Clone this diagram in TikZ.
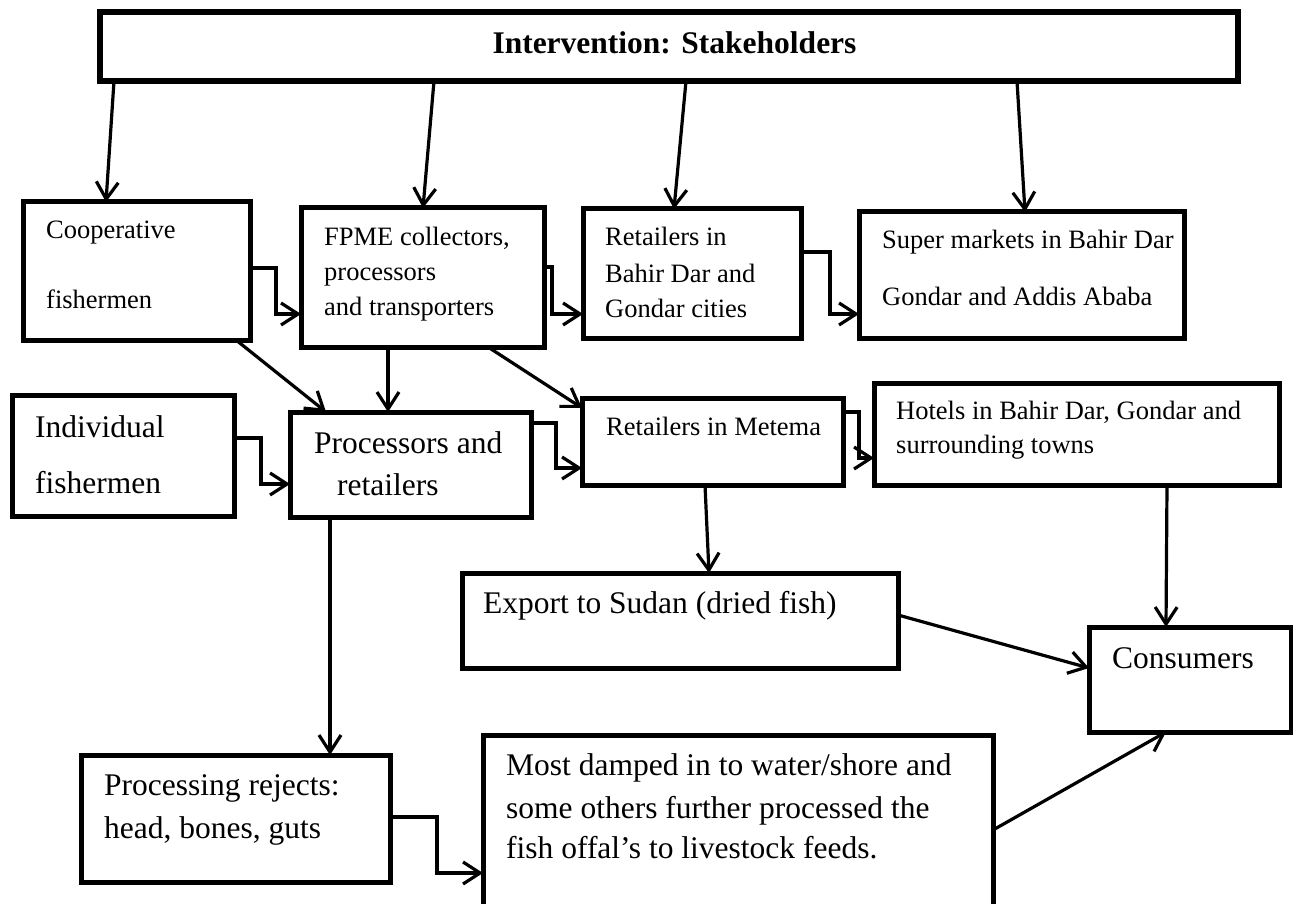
\documentclass[tikz,border=0pt]{standalone}
\usepackage{fontspec}
\setmainfont{Liberation Serif}
\usetikzlibrary{arrows.meta}
\begin{document}
\begin{tikzpicture}[x=1pt,y=-1pt,
  box/.style={draw, line width=5pt, outer sep=0pt, inner sep=0pt, anchor=north west},
  conn/.style={line width=3.2pt, -{Straight Barb[length=17pt,width=22pt]}},
  sm/.style={anchor=base west, inner sep=0pt, font=\fontsize{26.5}{30}\selectfont},
  bg/.style={anchor=base west, inner sep=0pt, font=\fontsize{31.5}{36}\selectfont}]
\clip (0,0) rectangle (1293,904);
\fill[white] (0,0) rectangle (1293,904);
% boxes
\node[box, line width=5.5pt, minimum width=1138pt, minimum height=69pt] (top) at (100,12) {};
\node[box, minimum width=227pt, minimum height=138pt] (coop) at (23,202) {};
\node[box, minimum width=243pt, minimum height=139pt] (fpme) at (301,208) {};
\node[box, minimum width=218pt, minimum height=129pt] (rbd) at (583,209) {};
\node[box, minimum width=325pt, minimum height=126pt] (super) at (859,212) {};
\node[box, minimum width=222pt, minimum height=121pt] (indiv) at (12,395) {};
\node[box, minimum width=241pt, minimum height=105pt] (proc) at (290,412) {};
\node[box, minimum width=261pt, minimum height=87pt] (metema) at (582,398) {};
\node[box, minimum width=405pt, minimum height=102pt] (hotels) at (874,383) {};
\node[box, minimum width=436pt, minimum height=95pt] (export) at (462,573) {};
\node[box, minimum width=202pt, minimum height=105pt] (cons) at (1089,627) {};
\node[box, minimum width=309pt, minimum height=127pt] (rejects) at (81,755) {};
\node[box, minimum width=510pt, minimum height=200pt] (damped) at (483,735) {};
% texts
\node[anchor=base, inner sep=0pt, font=\fontsize{31.5}{36}\selectfont\bfseries] (ttop) at (674.5,54) {Intervention: Stakeholders};
\node[sm] (tc1) at (46,238) {Cooperative};
\node[sm] (tc2) at (46,308) {fishermen};
\node[sm] (tf1) at (324,245) {FPME collectors,};
\node[sm] (tf2) at (324,280) {processors};
\node[sm] (tf3) at (324,315) {and transporters};
\node[sm] (tr1) at (605,246) {Retailers in};
\node[sm] (tr2) at (605,282) {Bahir Dar and};
\node[sm] (tr3) at (605,317) {Gondar cities};
\node[sm] (ts1) at (882,248) {Super markets in Bahir Dar};
\node[sm] (ts2) at (882,305) {Gondar and Addis Ababa};
\node[bg] (ti1) at (35,437) {Individual};
\node[bg] (ti2) at (35,493) {fishermen};
\node[bg] (tp1) at (314,453) {Processors and};
\node[bg] (tp2) at (337,495) {retailers};
\node[sm] (tm1) at (606,435) {Retailers in Metema};
\node[sm] (th1) at (896,419) {Hotels in Bahir Dar, Gondar and};
\node[sm] (th2) at (896,453) {surrounding towns};
\node[bg] (te1) at (483,613) {Export to Sudan (dried fish)};
\node[bg] (tco) at (1112,668) {Consumers};
\node[bg] (tj1) at (104,795) {Processing rejects:};
\node[bg] (tj2) at (104,838) {head, bones, guts};
\node[bg] (td1) at (506,775) {Most damped in to water/shore and};
\node[bg] (td2) at (506,818) {some others further processed the};
\node[bg] (td3) at (506,858) {fish offal’s to livestock feeds.};
% connectors
\draw[conn] (top.south -| 114,0) -- (coop.north -| 106,0);
\draw[conn] (top.south -| 434,0) -- (fpme.north -| 423,0);
\draw[conn] (top.south -| 686,0) -- (rbd.north -| 674,0);
\draw[conn] (top.south -| 1017,0) -- (super.north -| 1025,0);
\draw[conn] (coop.east |- 0,268) -| (276,314) -- (fpme.west |- 0,314);
\draw[conn] (fpme.east |- 0,267) -| (552,314) -- (rbd.west |- 0,314);
\draw[conn] (rbd.east |- 0,252) -| (830,314) -- (super.west |- 0,314);
\draw[conn] (coop.south -| 236,0) -- (proc.north -| 326,0);
\draw[conn] (fpme.south -| 388,0) -- (proc.north -| 388,0);
\draw[conn] (fpme.south -| 488,0) -- (metema.west |- 0,408);
\draw[conn] (indiv.east |- 0,438) -| (261,484) -- (proc.west |- 0,484);
\draw[conn] (proc.east |- 0,423) -| (556,468) -- (metema.west |- 0,468);
\draw[conn] (metema.east |- 0,412) -| (859,458) -- (hotels.west |- 0,458);
\draw[conn] (metema.south -| 705,0) -- (export.north -| 709,0);
\draw[conn] (hotels.south -| 1167,0) -- (cons.north -| 1166,0);
\draw[conn] (export.east |- 0,615) -- (cons.west |- 0,668);
\draw[conn] (proc.south -| 330,0) -- (rejects.north -| 330,0);
\draw[conn] (rejects.east |- 0,817) -| (437,873) -- (damped.west |- 0,873);
\draw[conn] (damped.east |- 0,830) -- (cons.south -| 1166,0);
\end{tikzpicture}
\end{document}
